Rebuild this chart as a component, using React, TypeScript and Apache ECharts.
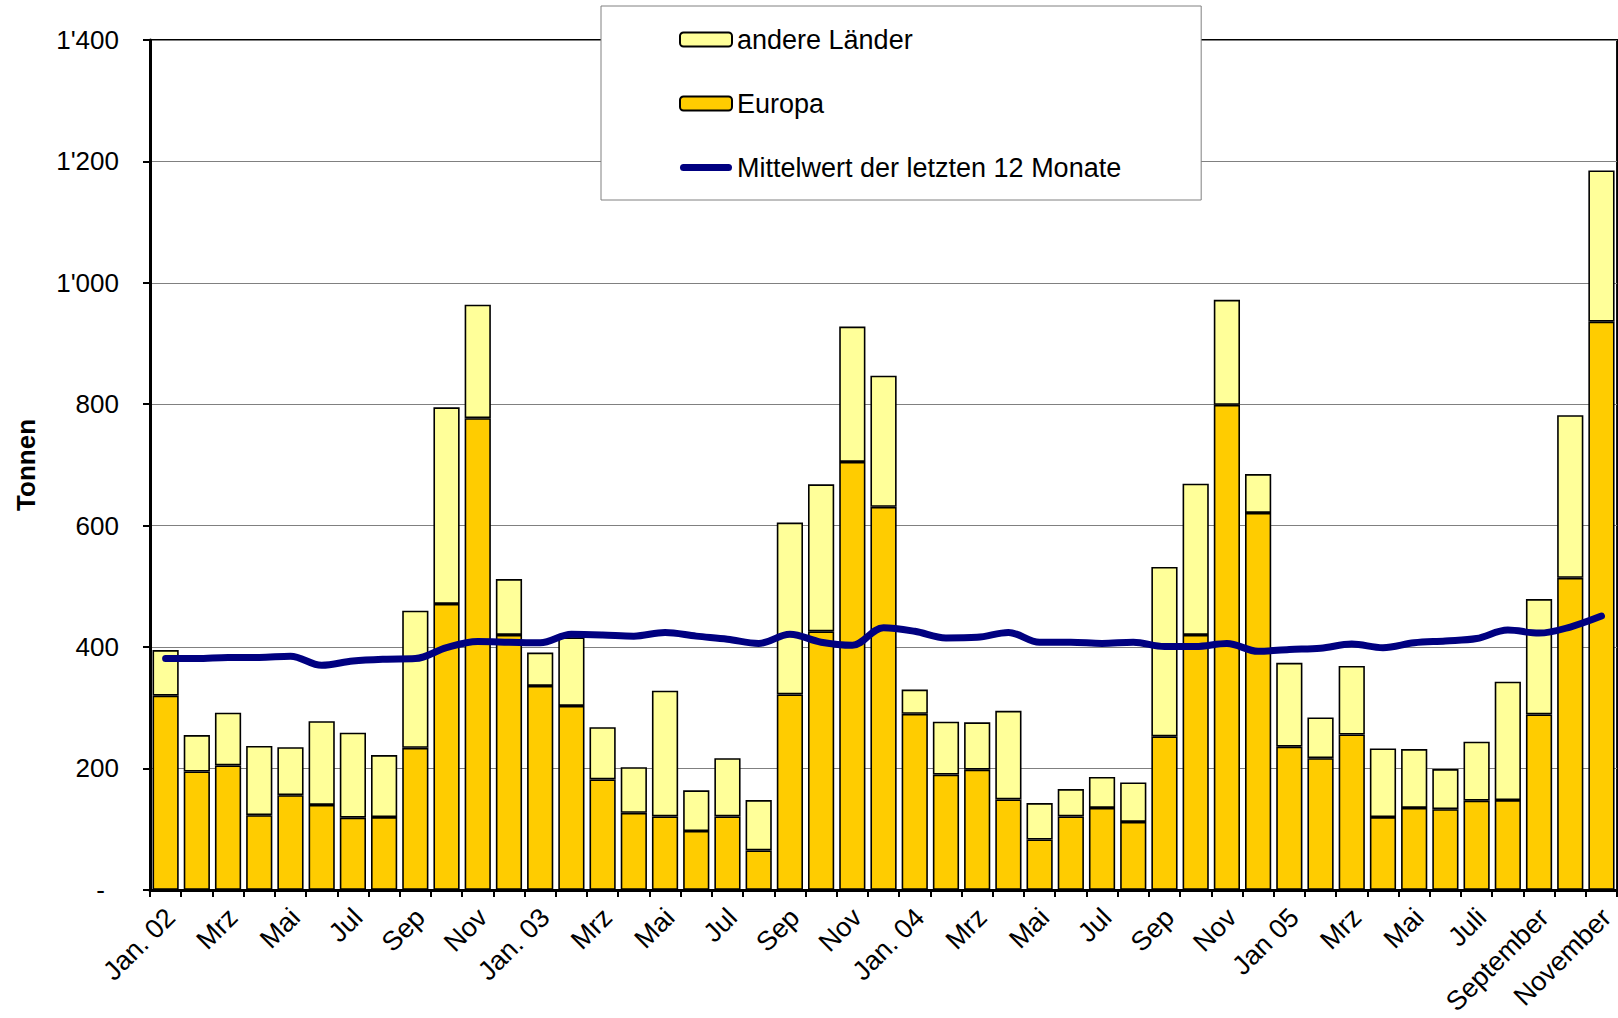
import React, { useEffect, useRef } from "react";
import * as echarts from "echarts";

const categories = [
  "Jan. 02", "Feb", "Mrz", "Apr", "Mai", "Jun", "Jul", "Aug", "Sep", "Okt", "Nov", "Dez",
  "Jan. 03", "Feb", "Mrz", "Apr", "Mai", "Jun", "Jul", "Aug", "Sep", "Okt", "Nov", "Dez",
  "Jan. 04", "Feb", "Mrz", "Apr", "Mai", "Jun", "Jul", "Aug", "Sep", "Okt", "Nov", "Dez",
  "Jan 05", "Feb", "Mrz", "Apr", "Mai", "Jun", "Juli", "Aug", "September", "Oktober", "November",
];

const europa = [
  320, 195, 205, 123, 156, 140, 119, 120, 234, 471, 777, 420,
  336, 303, 182, 127, 121, 97, 121, 65, 322, 426, 705, 631,
  290, 190, 198, 149, 83, 121, 135, 112, 253, 420, 799, 621,
  236, 217, 256, 120, 135, 133, 147, 148, 289, 514, 936,
];

const andereLaender = [
  75, 60, 87, 114, 79, 138, 140, 102, 226, 324, 187, 92,
  55, 113, 86, 75, 207, 67, 96, 83, 283, 242, 223, 216,
  40, 87, 78, 146, 60, 45, 51, 65, 279, 249, 173, 64,
  138, 67, 113, 113, 97, 66, 97, 195, 190, 268, 249,
];

const mittelwert = [
  381, 381, 383, 383, 385, 370, 377, 380, 381, 399, 409, 408,
  407, 421, 420, 418, 424, 418, 413, 406, 421, 408, 403, 432,
  426, 415, 416, 424, 408, 408, 406, 408, 401, 401, 406, 393,
  396, 398, 405, 399, 407, 410, 414, 428, 423, 433, 451,
];

const yTicks = { min: 0, max: 1400, interval: 200 };

const FONT = "'Liberation Sans', Arial, sans-serif";

function fmtY(v: number): string {
  if (v === 0) return "{z|-}";
  if (v >= 1000) {
    const th = Math.floor(v / 1000);
    const rest = String(v % 1000).padStart(3, "0");
    return `${th}'${rest}`;
  }
  return String(v);
}

export default function App() {
  const ref = useRef<HTMLDivElement>(null);

  useEffect(() => {
    if (!ref.current) return;
    const chart = echarts.init(ref.current, undefined, { renderer: "svg" });
    chart.setOption({
      animation: false,
      textStyle: { fontFamily: FONT, color: "#000" },
      grid: {
        left: 150,
        top: 40,
        width: 1475,
        height: 852,
        show: true,
        borderColor: "#000",
        borderWidth: 2,
        backgroundColor: "transparent",
      },
      legend: {
        left: 601,
        top: 6,
        orient: "vertical",
        padding: [20, 80, 19, 78],
        itemGap: 37,
        itemWidth: 52,
        itemHeight: 14,
        backgroundColor: "#fff",
        borderColor: "#808080",
        borderWidth: 1,
        textStyle: { fontSize: 27, lineHeight: 27, color: "#000", fontFamily: FONT },
        data: [
          { name: "andere Länder", itemStyle: { borderWidth: 2 } },
          { name: "Europa", itemStyle: { borderWidth: 2 } },
          {
            name: "Mittelwert der letzten 12 Monate",
            icon: "path://M0,0 M52,14 M3.5,3.5 L48.5,3.5 A3.5,3.5 0 0 1 48.5,10.5 L3.5,10.5 A3.5,3.5 0 0 1 3.5,3.5 Z",
            itemStyle: { color: "#000080", borderWidth: 0 },
          },
        ],
      },
      xAxis: {
        type: "category",
        data: categories,
        boundaryGap: true,
        axisLine: { show: true, lineStyle: { color: "#000", width: 3 } },
        axisTick: { show: true, interval: 0, length: 7, lineStyle: { color: "#000", width: 2 } },
        axisLabel: {
          interval: 1,
          rotate: 45,
          fontSize: 27,
          color: "#000",
          fontFamily: FONT,
          margin: 28,
          padding: [0, -7, 0, 0],
        },
        splitLine: { show: false },
      },
      yAxis: {
        type: "value",
        min: yTicks.min,
        max: yTicks.max,
        interval: yTicks.interval,
        name: "Tonnen",
        nameLocation: "middle",
        nameRotate: 90,
        nameGap: 111,
        nameTextStyle: { fontSize: 26, fontWeight: "bold", color: "#000", fontFamily: FONT },
        axisLine: { show: true, lineStyle: { color: "#000", width: 3 } },
        axisTick: { show: true, length: 7, lineStyle: { color: "#000", width: 2 } },
        axisLabel: {
          fontSize: 26,
          color: "#000",
          fontFamily: FONT,
          margin: 31,
          formatter: fmtY,
          rich: { z: { fontSize: 26, color: "#000", fontFamily: FONT, padding: [0, 14, 0, 0] } },
        },
        splitLine: { show: true, lineStyle: { color: "#808080", width: 1 } },
      },
      series: [
        {
          name: "Europa",
          type: "bar",
          stack: "total",
          data: europa,
          barWidth: "84%",
          itemStyle: { color: "#FFCC00", borderColor: "#000", borderWidth: 1.6 },
        },
        {
          name: "andere Länder",
          type: "bar",
          stack: "total",
          data: andereLaender,
          barWidth: "84%",
          itemStyle: { color: "#FFFF99", borderColor: "#000", borderWidth: 1.6 },
        },
        {
          name: "Mittelwert der letzten 12 Monate",
          type: "line",
          data: mittelwert,
          smooth: 0.35,
          symbol: "none",
          z: 5,
          lineStyle: { color: "#000080", width: 7, cap: "round", join: "round" },
          itemStyle: { color: "#000080" },
        },
      ],
    });
    return () => chart.dispose();
  }, []);

  return (
    <div style={{ position: "absolute", left: 0, top: 0, width: 1618, height: 1018, overflow: "hidden", background: "#fff" }}>
      <div ref={ref} style={{ width: 1618, height: 1018 }} />
    </div>
  );
}
